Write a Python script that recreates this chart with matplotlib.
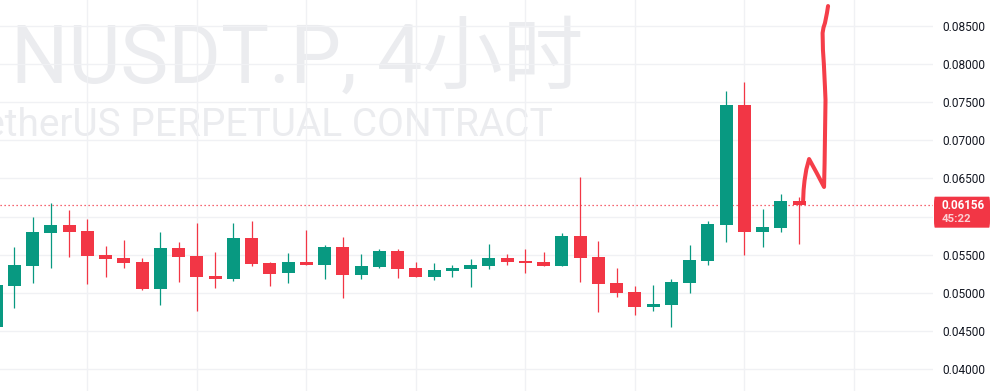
import matplotlib
matplotlib.use("Agg")
import matplotlib.pyplot as plt
import matplotlib.transforms as mtrans
from matplotlib.patches import FancyBboxPatch
import numpy as np

# ---------------- data ----------------
opens = [0.04551, 0.05089, 0.05351, 0.05788, 0.05889, 0.05811, 0.05496, 0.05456, 0.05404, 0.05054,
         0.05588, 0.05483, 0.05220, 0.05181, 0.05719, 0.05391, 0.05260, 0.05404, 0.05364, 0.05600,
         0.05233, 0.05338, 0.05548, 0.05325, 0.05207, 0.05286, 0.05312, 0.05351, 0.05456, 0.05417,
         0.05404, 0.05351, 0.05745, 0.05469, 0.05128, 0.05010, 0.04814, 0.04840, 0.05128, 0.05417,
         0.05889, 0.07464, 0.05797, 0.05850, 0.06200]
highs = [0.05120, 0.05600, 0.05994, 0.06178, 0.06086, 0.05968, 0.05614, 0.05693, 0.05456, 0.05797,
         0.05666, 0.05916, 0.05535, 0.05916, 0.05942, 0.05404, 0.05522, 0.05824, 0.05627, 0.05732,
         0.05509, 0.05574, 0.05574, 0.05404, 0.05391, 0.05364, 0.05443, 0.05640, 0.05509, 0.05574,
         0.05535, 0.05784, 0.06519, 0.05679, 0.05325, 0.05089, 0.05102, 0.05181, 0.05627, 0.05942,
         0.07647, 0.07765, 0.06099, 0.06296, 0.06257]
lows = [0.04500, 0.04804, 0.05132, 0.05325, 0.05473, 0.05119, 0.05207, 0.05329, 0.05037, 0.04840,
        0.05142, 0.04765, 0.05063, 0.05159, 0.05351, 0.05089, 0.05128, 0.05364, 0.05181, 0.04932,
        0.05181, 0.05325, 0.05194, 0.05207, 0.05168, 0.05207, 0.05076, 0.05312, 0.05364, 0.05260,
        0.05351, 0.05351, 0.05142, 0.04748, 0.04945, 0.04709, 0.04761, 0.04551, 0.04997, 0.05364,
        0.05666, 0.05496, 0.05600, 0.05797, 0.05640]
closes = [0.05102, 0.05364, 0.05797, 0.05889, 0.05801, 0.05483, 0.05443, 0.05395, 0.05054, 0.05588,
          0.05469, 0.05207, 0.05181, 0.05719, 0.05378, 0.05246, 0.05404, 0.05364, 0.05600, 0.05233,
          0.05351, 0.05548, 0.05312, 0.05207, 0.05299, 0.05325, 0.05364, 0.05456, 0.05404, 0.05391,
          0.05351, 0.05745, 0.05456, 0.05115, 0.04997, 0.04814, 0.04853, 0.05142, 0.05430, 0.05902,
          0.07464, 0.05797, 0.05863, 0.06204, 0.06156]

price_ticks = [0.040, 0.045, 0.050, 0.055, 0.060, 0.065, 0.070, 0.075, 0.080, 0.085]
last_price = 0.06156
countdown = "45:22"
title_text = "NUSDT.P, 4小时"
subtitle_text = "TetherUS PERPETUAL CONTRACT"

# hand-drawn annotation (bar index, price)
drawing_x = [44.22, 44.25, 44.30, 44.40, 44.55, 44.95, 45.37, 45.40, 45.43, 45.45, 45.42,
             45.36, 45.31, 45.29, 45.34, 45.42, 45.53, 45.59]
drawing_y = [0.06191, 0.06350, 0.06470, 0.06620, 0.06755, 0.06580, 0.06388, 0.06700, 0.07200,
             0.07529, 0.07700, 0.08000, 0.08185, 0.08408, 0.08480, 0.08539, 0.08671, 0.08762]

# ---------------- style ----------------
UP = "#089981"
DOWN = "#F23645"
GRID = "#F0F1F4"
WM = "#EBECEF"

W, H = 996, 391
fig = plt.figure(figsize=(W / 100, H / 100), dpi=100)
fig.patch.set_facecolor("white")
AX_W = 933
ax = fig.add_axes([0, 0, AX_W / W, 1])
ax.set_facecolor("white")

# watermark texts (behind everything)
fig.text(11 / W, 1 - 83 / H, title_text, fontsize=58, color=WM,
         family=["Roboto", "Noto Sans CJK SC"], ha="left", va="baseline", zorder=-5)
fig.text(553 / W, 1 - 136 / H, subtitle_text, fontsize=28, color=WM,
         family=["Roboto", "Noto Sans CJK SC"], ha="right", va="baseline", zorder=-5)
ax.patch.set_alpha(0)

n = len(opens)
x = np.arange(n)
o = np.array(opens); c = np.array(closes); h = np.array(highs); l = np.array(lows)
colors = [UP if cc >= oo else DOWN for oo, cc in zip(o, c)]

ylo, yhi = 0.03712, 0.08841
ax.set_ylim(ylo, yhi)
ax.set_xlim(0.2164, 51.34)

px_price = (yhi - ylo) / H
bottoms = np.minimum(o, c)
heights = np.maximum(np.abs(c - o), px_price)

ax.vlines(x, l, h, colors=colors, linewidth=0.9, zorder=3)
ax.bar(x, heights, bottom=bottoms, width=0.71, color=colors, linewidth=0, zorder=4)

# grid
ax.set_yticks(price_ticks)
ax.set_yticklabels([f"{t:.5f}" for t in price_ticks])
ax.set_xticks(np.arange(5, 52, 6))
ax.grid(True, color=GRID, linewidth=1.0, zorder=0)
ax.set_axisbelow(True)
ax.tick_params(axis="x", length=0, labelbottom=False)
ax.yaxis.tick_right()
ax.tick_params(axis="y", length=0, pad=6.5, labelsize=8.6, labelcolor="#131722")
for lab in ax.get_yticklabels():
    lab.set_family("Roboto")
for s in ax.spines.values():
    s.set_visible(False)

# last price dotted line
ax.axhline(last_price, color=DOWN, linewidth=0.9, linestyle=(0, (1, 2.2)), zorder=2)

# hand-drawn line
ax.plot(drawing_x, drawing_y, color="#F5333F", linewidth=2.9, solid_capstyle="round",
        solid_joinstyle="round", zorder=6, alpha=0.95)

# price label box on the axis
trans = mtrans.blended_transform_factory(ax.transAxes, ax.transData)
box_top = last_price + 8 * px_price
box_bot = last_price - 23 * px_price
box = FancyBboxPatch((934 / AX_W, box_bot), 56 / AX_W, box_top - box_bot,
                     boxstyle="round,pad=0,rounding_size=0.001", transform=trans,
                     facecolor=DOWN, edgecolor="none", clip_on=False, zorder=10)
ax.add_patch(box)
ax.text(942 / AX_W, last_price - 0.8 * px_price, f"{last_price:.5f}", transform=trans,
        color="white", fontsize=8.4, fontweight="bold", family="Roboto",
        ha="left", va="center", clip_on=False, zorder=11)
ax.text(942 / AX_W, last_price - 14.5 * px_price, countdown, transform=trans,
        color="#FBD0D4", fontsize=8.2, fontweight="bold", family="Roboto",
        ha="left", va="center", clip_on=False, zorder=11)

fig.savefig("out.png", dpi=100, facecolor="white")
